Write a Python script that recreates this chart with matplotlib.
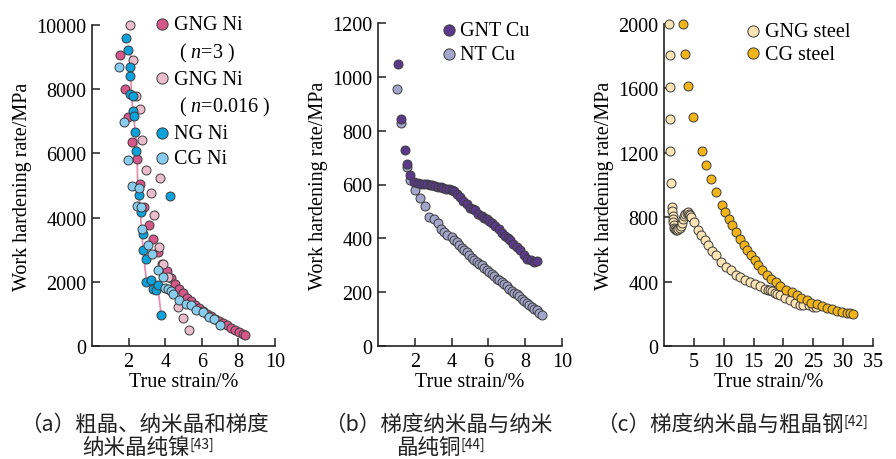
import matplotlib
matplotlib.use("Agg")
import matplotlib.pyplot as plt
from matplotlib.lines import Line2D

plt.rcParams['font.family'] = ['Liberation Serif', 'Noto Sans CJK SC']
plt.rcParams['mathtext.fontset'] = 'custom'
plt.rcParams['mathtext.rm'] = 'Liberation Serif'
plt.rcParams['mathtext.it'] = 'Liberation Serif:italic'

# ---------------- Panel (a) data: Ni ----------------
gng3_x = [1.51, 1.78, 1.96, 2.2, 2.45, 2.6, 2.82, 3.09, 3.36, 3.6,
          3.85, 4.08, 4.3, 4.52, 4.74, 4.96, 5.18, 5.4, 5.62, 5.84, 6.06,
          6.28, 6.5, 6.72, 6.94, 7.16, 7.38, 7.6, 7.82, 8.04, 8.25, 8.38]
gng3_y = [9070, 8010, 7130, 6370, 5830, 5050, 4330, 3760, 3340, 2930,
          2550, 2340, 2120, 1930, 1780, 1640, 1510, 1400, 1290, 1190, 1090,
          1000, 920, 850, 780, 710, 640, 570, 500, 430, 370, 330]
gng016_x = [2.09, 2.24, 2.42, 2.6, 2.73, 2.96, 3.69, 3.2, 3.38, 3.65,
            3.87, 4.15, 4.72, 4.99, 5.32]
gng016_y = [10000, 8910, 7800, 7370, 6420, 5470, 5240, 4760, 4070, 3080,
            2560, 2150, 1210, 870, 500]
ng_x = [1.87, 1.96, 2.05, 2.05, 2.09, 2.24, 2.24, 2.27, 2.33, 2.38,
        2.56, 2.69, 2.78, 2.78, 2.93, 2.96, 3.24, 3.33, 3.47, 3.6, 4.27, 3.78]
ng_y = [9585, 9232, 8683, 8402, 7853, 7780, 7313, 7158, 6660, 6089,
        4689, 4170, 3496, 2977, 2718, 1992, 2044, 1784, 1732, 1888, 4658, 954]
cg_x = [1.47, 1.73, 1.96, 2.2, 2.55, 2.45, 2.69, 2.75, 3.05, 3.29,
        3.6, 3.87, 4.0, 4.15, 4.3, 4.45, 4.78, 5.15, 5.42, 5.69, 6.05,
        6.42, 6.69, 6.98]
cg_y = [8683, 6992, 5809, 5000, 4917, 4357, 4326, 3651, 3133, 2873,
        2355, 2147, 1800, 1784, 1700, 1628, 1421, 1317, 1266, 1110, 1058,
        902, 850, 640]
fit_x = [2.1, 2.15, 2.3, 2.45, 2.5, 2.6, 2.75, 2.9, 3.0, 3.3, 3.62, 3.78]
fit_y = [9300, 7800, 7000, 6300, 5000, 4500, 3300, 2400, 2000, 1800, 1750, 950]

# ---------------- Panel (b) data: Cu ----------------
gnt_x = [1.09, 1.24, 1.45, 1.6, 1.76, 1.95, 2.18, 2.35, 2.5, 2.65, 2.8,
         2.95, 3.1, 3.25, 3.4, 3.55, 3.7, 3.85, 4.0, 4.15, 4.3, 4.45, 4.64,
         4.82, 5.0, 5.14, 5.27, 5.45, 5.64, 5.78, 5.91, 6.05, 6.18, 6.36,
         6.55, 6.73, 6.91, 7.05, 7.18, 7.36, 7.55, 7.73, 7.91, 8.09, 8.31,
         8.5, 8.62]
gnt_y = [1048, 842, 730, 677, 636, 611, 605, 603, 602, 601, 600,
         598, 595, 592, 589, 586, 584, 582, 580, 576, 565, 553, 538,
         526, 514, 508, 504, 491, 483, 476, 470, 464, 458, 446,
         433, 421, 408, 400, 392, 380, 368, 355, 337, 324, 318,
         313, 315]
nt_x = [1.04, 1.24, 1.55, 1.76, 2.0, 2.27, 2.55, 2.78, 3.04, 3.27, 3.45,
        3.6, 3.73, 4.0, 4.14, 4.27, 4.41, 4.55, 4.68, 4.82, 4.96, 5.09,
        5.22, 5.36, 5.5, 5.64, 5.78, 5.91, 6.05, 6.18, 6.32, 6.45, 6.59,
        6.73, 6.86, 7.0, 7.14, 7.27, 7.41, 7.55, 7.68, 7.82, 7.96, 8.09,
        8.22, 8.36, 8.5, 8.64, 8.77, 8.9]
nt_y = [955, 829, 665, 615, 578, 550, 520, 479, 473, 458, 436,
        422, 411, 405, 395, 386, 375, 364, 356, 349, 338, 327,
        320, 312, 306, 300, 290, 281, 275, 269, 259, 250, 244,
        238, 230, 223, 213, 203, 198, 194, 185, 176, 168, 161,
        153, 145, 138, 132, 124, 116]

# ---------------- Panel (c) data: steel ----------------
gngs_x = [0.9, 1.0, 1.0, 1.0, 1.0, 1.18, 1.35, 1.42, 1.48, 1.52, 1.56,
          1.62, 1.7, 1.84, 2.0, 2.2, 2.4, 2.6, 2.8, 3.0, 3.2, 3.4, 3.6, 3.8,
          4.0, 4.2, 4.4, 4.6, 5.0, 5.66, 6.2, 6.8, 7.35, 8.1, 8.75, 9.6,
          10.4, 11.2, 12.0, 12.7, 13.5, 14.4, 15.2, 16.0, 16.9, 17.4, 17.7,
          18.1, 18.6, 19.0, 19.4, 20.2, 21.1, 21.9, 22.7, 23.3, 24.2, 25.0,
          25.5]
gngs_y = [2002, 1810, 1609, 1412, 1209, 1012, 863, 840, 810, 790, 770,
          750, 735, 727, 722, 722, 725, 731, 745, 765, 789, 805, 818, 828,
          830, 822, 812, 800, 770, 718, 687, 656, 625, 590, 563, 522,
          491, 470, 443, 429, 412, 398, 387, 373, 356, 350, 345,
          340, 330, 325, 318, 300, 284, 268, 257, 257, 253, 242,
          240]
cgs_x = [3.14, 3.59, 3.98, 4.82, 6.34, 7.07, 7.9, 8.75, 9.76, 10.15, 10.9,
         11.4, 12.1, 12.7, 13.35, 13.9, 14.5, 15.2, 15.8, 16.4, 17.2, 18.0,
         18.8, 19.5, 20.5, 21.4, 22.2, 23.0, 23.9, 24.7, 25.6, 26.4, 27.3,
         28.1, 28.9, 29.8, 30.6, 31.2, 31.6]
cgs_y = [2002, 1816, 1615, 1422, 1209, 1122, 1035, 956, 874, 832, 787,
         749, 708, 667, 625, 594, 563, 532, 501, 470, 439, 414,
         398, 373, 350, 335, 315, 298, 284, 269, 259, 248, 238,
         228, 217, 211, 205, 203, 201]

xticks_ab = [2, 4, 6, 8, 10]
yticks_a = [0, 2000, 4000, 6000, 8000, 10000]
yticks_b = [0, 200, 400, 600, 800, 1000, 1200]
xticks_c = [5, 10, 15, 20, 25, 30, 35]
yticks_c = [0, 400, 800, 1200, 1600, 2000]

EDGE = '#3c3c3c'
S = 42
FS = 14.5
SERIF = 'Liberation Serif'

fig = plt.figure(figsize=(8.96, 4.6), dpi=100)
ax_a = fig.add_axes([92/896, 1-347/460, 183/896, 321/460])
ax_b = fig.add_axes([378/896, 1-347/460, 184/896, 323/460])
ax_c = fig.add_axes([664/896, 1-347/460, 209/896, 322/460])


def style(ax, xlim, ylim, xticks, yticks):
    ax.set_xlim(*xlim)
    ax.set_ylim(*ylim)
    ax.set_xticks(xticks)
    ax.set_yticks(yticks)
    for s in ['top', 'right']:
        ax.spines[s].set_visible(False)
    for s in ['left', 'bottom']:
        ax.spines[s].set_linewidth(1.2)
        ax.spines[s].set_color('#222222')
    ax.tick_params(direction='in', length=6, width=1.1, labelsize=FS,
                   pad=4, color='#222222')
    for lab in ax.get_xticklabels() + ax.get_yticklabels():
        lab.set_fontfamily(SERIF)
    ax.set_xlabel('True strain/%', fontsize=FS, labelpad=1, family=SERIF)
    ax.set_ylabel('Work hardening rate/MPa', fontsize=FS, labelpad=3,
                  family=SERIF)
    for sp in ax.spines.values():
        sp.set_clip_on(False)


kw = dict(s=S, edgecolors=EDGE, linewidths=0.7, clip_on=False, zorder=3)
leg_kw = dict(loc='upper left', frameon=False, fontsize=FS,
              handletextpad=0.05, handlelength=1.0, borderpad=0.0,
              borderaxespad=0.0, markerscale=1.25)

# Panel a
ax_a.plot(fit_x, fit_y, color='#e68fb0', lw=1.3, zorder=2)
h1 = ax_a.scatter(gng3_x, gng3_y, color='#d6578a', **kw)
h2 = ax_a.scatter(gng016_x, gng016_y, color='#ebbccb', **kw)
h3 = ax_a.scatter(ng_x, ng_y, color='#0ba2dc', **kw)
h4 = ax_a.scatter(cg_x, cg_y, color='#88cdef', **kw)
style(ax_a, (0, 10), (0, 10000), xticks_ab, yticks_a)
blank = Line2D([], [], linestyle='none', marker='none')
ax_a.legend([h1, blank, h2, blank, h3, h4],
            ['GNG Ni', ' ( $n$=3 )', 'GNG Ni', ' ( $n$=0.016 )', 'NG Ni', 'CG Ni'],
            bbox_to_anchor=(0.33, 1.03), labelspacing=0.3, **leg_kw)

# Panel b
g1 = ax_b.scatter(nt_x, nt_y, color='#a3a5cb', **kw)
g2 = ax_b.scatter(gnt_x, gnt_y, color='#5b3a8b', **kw)
style(ax_b, (0, 10), (0, 1200), xticks_ab, yticks_b)
ax_b.legend([g2, g1], ['GNT Cu', 'NT Cu'], bbox_to_anchor=(0.33, 1.005),
            labelspacing=0.22, **leg_kw)

# Panel c
k1 = ax_c.scatter(gngs_x, gngs_y, color='#fde4b4', **kw)
k2 = ax_c.scatter(cgs_x, cgs_y, color='#f3b417', **kw)
style(ax_c, (0, 35), (0, 2000), xticks_c, yticks_c)
ax_c.legend([k1, k2], ['GNG steel', 'CG steel'], bbox_to_anchor=(0.38, 1.005),
            labelspacing=0.15, **leg_kw)

# Captions
CFS = 15.5
cap_font = ['Noto Sans CJK SC', 'Liberation Serif']


def caption(x, y, txt, sup=None):
    t = fig.text(x/896, 1-y/460, txt, fontsize=CFS, family=cap_font,
                 va='center', ha='left', color='#222222')
    if sup:
        ax_a.annotate(sup, xy=(1.0, 0.95), xycoords=t, fontsize=10,
                      family=cap_font, va='top', ha='left', color='#222222',
                      annotation_clip=False)
    return t


caption(20, 425, '（a）粗晶、纳米晶和梯度')
caption(82, 448, '纳米晶纯镍', '[43]')
caption(324, 425, '（b）梯度纳米晶与纳米')
caption(396, 448, '晶纯铜', '[44]')
caption(596, 425, '（c）梯度纳米晶与粗晶钢', '[42]')

fig.savefig('out.png', dpi=100)
